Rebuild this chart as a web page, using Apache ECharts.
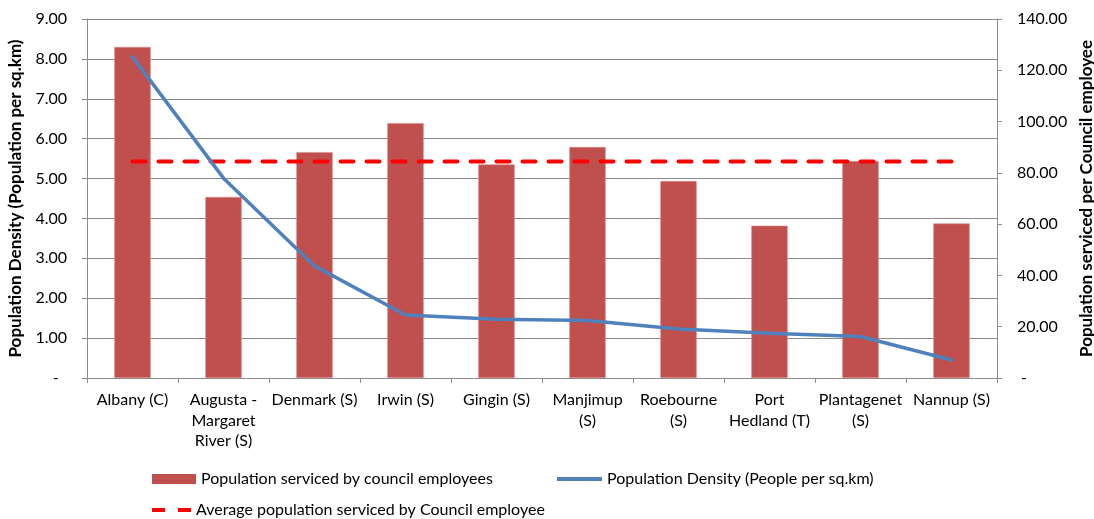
<!DOCTYPE html>
<html>
<head>
<meta charset="utf-8">
<script src="https://cdn.jsdelivr.net/npm/echarts@6/dist/echarts.min.js"></script>
<style>
  html, body { margin: 0; padding: 0; background: #fff; }
  #chart { width: 1094px; height: 519px; }
</style>
</head>
<body>
<div id="chart"></div>
<script>
// Local government areas
const councils = [
  'Albany (C)', 'Augusta -\nMargaret\nRiver (S)', 'Denmark (S)', 'Irwin (S)', 'Gingin (S)',
  'Manjimup\n(S)', 'Roebourne\n(S)', 'Port\nHedland (T)', 'Plantagenet\n(S)', 'Nannup (S)'
];
// Population serviced per council employee (right axis)
const servicedPerEmployee = [129.1, 70.6, 88.1, 99.4, 83.3, 90.1, 76.8, 59.4, 84.6, 60.3];
// Population density, people per sq.km (left axis)
const density = [8.05, 5.01, 2.81, 1.58, 1.47, 1.44, 1.23, 1.12, 1.04, 0.45];
// Average population serviced per council employee
const averageServiced = 84.4;
const averageLine = councils.map(() => averageServiced);

const leftTicks = { min: 0, max: 9, interval: 1 };
const rightTicks = { min: 0, max: 140, interval: 20 };

const FONT = 'Lato';
const grey = '#8a8a8a';

const fmt = v => (v === 0 ? '-  ' : v.toFixed(2));
const fmtR = v => (v === 0 ? ' -' : v.toFixed(2));

const chart = echarts.init(document.getElementById('chart'), null, { renderer: 'canvas' });

const legendText = { fontFamily: FONT, fontSize: 16, lineHeight: 20, color: '#000' };
const nameStyle = { fontFamily: FONT, fontSize: 17, fontWeight: 'bold', color: '#000' };

// legend glyphs: solid stroke and a two-dash stroke
const solidIcon = 'path://M0,0h45v4h-45z';
const dashIcon = 'path://M0,0h13v4h-13z M26,0h13v4h-13z';

chart.setOption({
  animation: false,
  backgroundColor: '#fff',
  textStyle: { fontFamily: FONT },
  grid: { left: 87, right: 97, top: 19, bottom: 141, containLabel: false, outerBoundsMode: 'none' },
  legend: [
    { left: 147, top: 464, padding: 5, itemWidth: 44, itemHeight: 10, itemGap: 5,
      itemStyle: { borderWidth: 0 },
      textStyle: legendText,
      data: [{ name: 'Population serviced by council employees', icon: 'rect' }] },
    { left: 552, top: 464, padding: 5, itemWidth: 45, itemHeight: 4, itemGap: 5,
      textStyle: legendText,
      data: [{ name: 'Population Density (People per sq.km)', icon: solidIcon }] },
    { left: 147, top: 495, padding: 5, itemWidth: 39, itemHeight: 4, itemGap: 5,
      textStyle: legendText,
      data: [{ name: 'Average population serviced by Council employee', icon: dashIcon }] }
  ],
  xAxis: {
    type: 'category',
    data: councils,
    boundaryGap: true,
    axisLine: { show: true, lineStyle: { color: grey, width: 1 } },
    axisTick: { show: true, length: 5, lineStyle: { color: grey } },
    axisLabel: { interval: 0, color: '#000', fontFamily: FONT, fontSize: 16, lineHeight: 20.5, margin: 12 },
    splitLine: { show: false }
  },
  yAxis: [
    {
      type: 'value', position: 'left',
      min: leftTicks.min, max: leftTicks.max, interval: leftTicks.interval,
      name: 'Population Density (Population per sq.km)',
      nameLocation: 'middle', nameGap: 61, nameRotate: 90,
      nameTextStyle: nameStyle,
      axisLine: { show: true, lineStyle: { color: grey, width: 1 } },
      axisTick: { show: true, length: 5, lineStyle: { color: grey } },
      axisLabel: { color: '#000', fontFamily: FONT, fontSize: 16, margin: 20, formatter: fmt },
      splitLine: { show: true, lineStyle: { color: grey, width: 1 } }
    },
    {
      type: 'value', position: 'right',
      min: rightTicks.min, max: rightTicks.max, interval: rightTicks.interval,
      name: 'Population serviced per Council employee',
      nameLocation: 'middle', nameGap: 80, nameRotate: 90,
      nameTextStyle: nameStyle,
      axisLine: { show: true, lineStyle: { color: grey, width: 1 } },
      axisTick: { show: true, length: 5, lineStyle: { color: grey } },
      axisLabel: { color: '#000', fontFamily: FONT, fontSize: 16, margin: 20, formatter: fmtR },
      splitLine: { show: false }
    }
  ],
  series: [
    {
      name: 'Population serviced by council employees',
      type: 'bar', yAxisIndex: 1, data: servicedPerEmployee,
      barWidth: '40%',
      itemStyle: { color: '#C0504D', borderColor: '#D9908E', borderWidth: 0.6 },
      z: 2
    },
    {
      name: 'Population Density (People per sq.km)',
      type: 'line', yAxisIndex: 0, data: density,
      symbol: 'none', showSymbol: false,
      lineStyle: { color: '#4F81BD', width: 3.5, cap: 'round', join: 'round' },
      itemStyle: { color: '#4F81BD' },
      z: 4
    },
    {
      name: 'Average population serviced by Council employee',
      type: 'line', yAxisIndex: 1, data: averageLine,
      symbol: 'none', showSymbol: false,
      lineStyle: { color: '#FF0000', width: 4, type: [13, 13], cap: 'round' },
      itemStyle: { color: '#FF0000' },
      z: 3
    }
  ]
});
</script>
</body>
</html>
